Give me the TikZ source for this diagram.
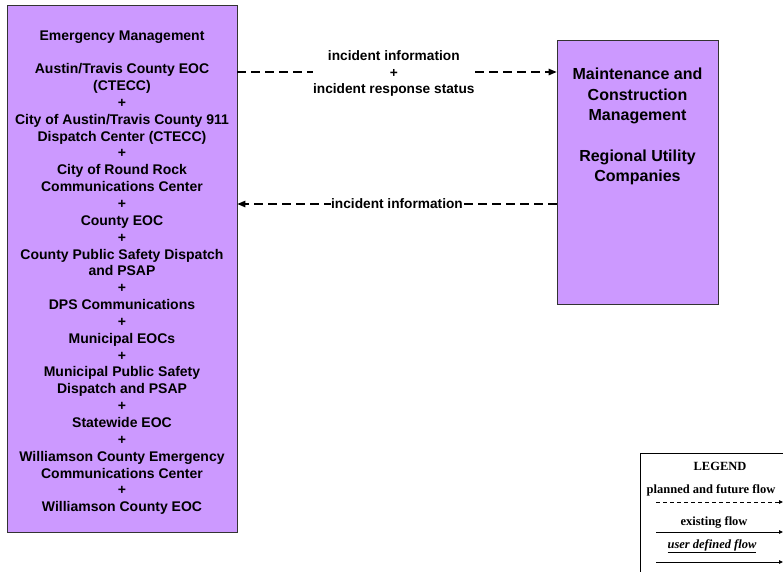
\documentclass[tikz,border=0pt]{standalone}
\usepackage{fontspec}
\setmainfont{Liberation Sans}
\newfontfamily\legfont{Liberation Serif}
\usetikzlibrary{arrows.meta}
\definecolor{boxpurple}{HTML}{CC99FF}
\definecolor{boxline}{HTML}{333333}
\begin{document}
\begin{tikzpicture}[x=1pt,y=-1pt,
  box/.style={draw=boxline, line width=0.8pt, fill=boxpurple, inner sep=0pt},
  boxtext/.style={align=center, inner sep=0pt, anchor=north},
  flow/.style={dash pattern=on 9pt off 5pt, line width=1.2pt, -{Triangle[length=8pt,width=6.5pt]}},
  flowlabel/.style={fill=white, inner xsep=0.5pt, inner ysep=1pt, align=center, font=\bfseries\fontsize{13.7}{16.5}\selectfont},
  legtext/.style={font=\legfont\bfseries\fontsize{12.5}{14}\selectfont, inner sep=0pt},
  legline/.style={line width=0.9pt, -{Triangle[length=4pt,width=3.5pt]}}]
\useasboundingbox (0,0) rectangle (783,571);
% boxes
\node[box, minimum width=230pt, minimum height=527pt] (em) at (122,268.5) {};
\node[box, minimum width=161pt, minimum height=264pt] (mc) at (637.5,172) {};
% box texts
\node[boxtext, font=\bfseries\fontsize{14}{16.85}\selectfont] (emtext) at (122,31) {Emergency Management\\[16pt]
Austin/Travis County EOC\\(CTECC)\\+\\City of Austin/Travis County 911\\Dispatch Center (CTECC)\\+\\
City of Round Rock\\Communications Center\\+\\County EOC\\+\\County Public Safety Dispatch\\and PSAP\\+\\
DPS Communications\\+\\Municipal EOCs\\+\\Municipal Public Safety\\Dispatch and PSAP\\+\\Statewide EOC\\+\\
Williamson County Emergency\\Communications Center\\+\\Williamson County EOC};
\node[boxtext, font=\bfseries\fontsize{16}{20.3}\selectfont] (mctext) at (637.5,68) {Maintenance and\\Construction\\Management\\[20.3pt]Regional Utility\\Companies};
% connectors
\draw[flow] (em.east |- 0,72) -- node[flowlabel, pos=0.49, yshift=-1.5pt] (l1) {incident information\\+\\incident response status} (mc.west |- 0,72);
\draw[flow] (mc.west |- 0,204) -- node[flowlabel] (l2) {incident information} (em.east |- 0,204);
% legend
\node[draw=black, line width=0.8pt, minimum width=160pt, minimum height=137pt, anchor=north west, inner sep=0pt] (leg) at (640,453) {};
\node[legtext] (legt) at (720,466) {LEGEND};
\node[legtext] (lega) at (711,490) {planned and future flow};
\node[legtext] (legb) at (714,522) {existing flow};
\node[legtext, font=\legfont\bfseries\itshape\fontsize{12.5}{14}\selectfont] (legc) at (712,546) {\underline{user defined flow}};
\coordinate (a1) at (656,502); \coordinate (a2) at (783,502);
\coordinate (b1) at (656,532); \coordinate (b2) at (783,532);
\coordinate (c1) at (656,562); \coordinate (c2) at (783,562);
\draw[legline, dash pattern=on 4pt off 3pt] (a1) -- (a2);
\draw[legline] (b1) -- (b2);
\draw[legline] (c1) -- (c2);
\end{tikzpicture}
\end{document}
